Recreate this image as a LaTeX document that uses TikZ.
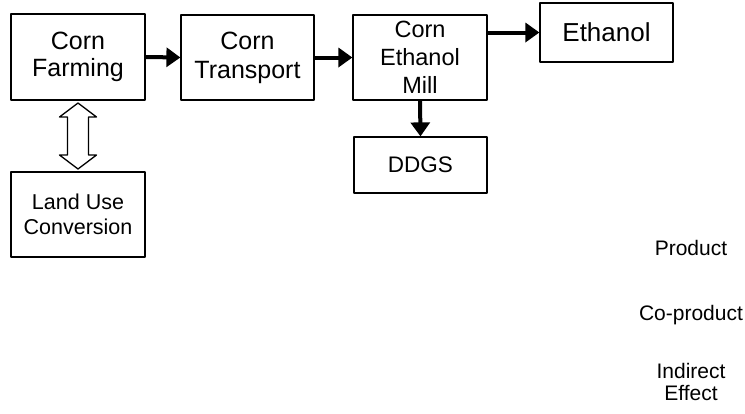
\documentclass[tikz,border=0pt]{standalone}
\usepackage{fontspec}
\setmainfont{Liberation Sans}
\usetikzlibrary{arrows.meta,calc}

\begin{document}
\begin{tikzpicture}[
  x=1pt,
  y=-1pt,
  line join=round,
  box/.style={draw,line width=1.2pt,align=center,inner sep=0pt},
  flow/.style={draw,line width=4pt,-{Triangle[length=14pt,width=19pt]}},
  hollow/.style={draw,line width=1.3pt,fill=white},
  legend/.style={align=center,font=\fontsize{21}{22}\selectfont}
]
  % Match the scanned figure frame.
  \useasboundingbox (0,0) rectangle (745,413);

  % Pathway boxes.
  \node[box,minimum width=134,minimum height=86,font=\fontsize{25}{27}\selectfont]
    (farming) at (78,57) {Corn\\Farming};
  \node[box,minimum width=133,minimum height=85,font=\fontsize{25}{29}\selectfont]
    (transport) at (247.5,57.5) {Corn\\Transport};
  \node[box,minimum width=134,minimum height=85,font=\fontsize{23.5}{28}\selectfont]
    (mill) at (420,57.5) {Corn\\Ethanol\\Mill};
  \node[box,minimum width=133,minimum height=59,font=\fontsize{26}{28}\selectfont]
    (ethanol) at (606.5,32.5) {Ethanol};
  \node[box,minimum width=133,minimum height=56,font=\fontsize{22.5}{26}\selectfont]
    (ddgs) at (420.5,165) {DDGS};
  \node[box,minimum width=134,minimum height=85,font=\fontsize{21.5}{25}\selectfont]
    (land) at (78,214.5) {Land Use\\Conversion};

  % Material flow.
  \draw[flow] (farming.east) -- (transport.west);
  \draw[flow] (transport.west -| transport.east) -- (mill.west);
  \draw[flow] (mill.east |- ethanol.west) -- (ethanol.west);
  \draw[flow] (mill.south) -- (ddgs.north);

  % Two-way hollow arrow for land use change.
  \coordinate (swap) at ($(farming.south)!0.5!(land.north)$);
  \draw[hollow] ($(swap)+(0,-33)$) -- ++(18.5,14) -- ++(-8,0) -- ++(0,38)
    -- ++(8,0) -- ++(-18.5,14) -- ++(-18.5,-14) -- ++(8,0) -- ++(0,-38)
    -- ++(-8,0) -- cycle;

  % Legend labels.
  \node[legend] (product) at (691,248) {Product};
  \node[legend] (coproduct) at (691,315) {Co-product};
  \node[legend] (indirect) at (691,382) {Indirect\\Effect};
\end{tikzpicture}
\end{document}
